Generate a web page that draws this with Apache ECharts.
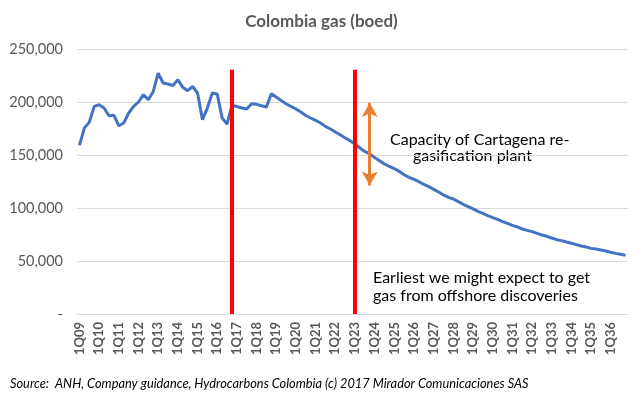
<!DOCTYPE html>
<html>
<head>
<meta charset="utf-8">
<script src="https://cdn.jsdelivr.net/npm/echarts@6/dist/echarts.min.js"></script>
<style>
  html, body { margin: 0; padding: 0; background: #fff; }
  #chart { width: 643px; height: 397px; }
</style>
</head>
<body>
<div id="chart"></div>
<script>
// Quarterly gas production, boed. 1Q09 .. 4Q36.
const years = ["09","10","11","12","13","14","15","16","17","18","19","20","21","22",
  "23","24","25","26","27","28","29","30","31","32","33","34","35","36"];
const quarters = ["1Q", "2Q", "3Q", "4Q"];
const categories = [];
years.forEach(y => quarters.forEach(q => categories.push(q + y)));

const history = [
  159000, 175500, 181000, 195800, 197400, 194300, 187000, 187500,
  177600, 180200, 189600, 195800, 200000, 206900, 202200, 210000,
  227300, 217900, 217000, 215600, 221000, 213800, 210700, 214700,
  208500, 183300, 194300, 208500, 207500, 184900, 179200, 197000,
];
const forecast = [
  195800, 194300, 193400, 198400, 197800, 196500, 195300, 207800,
  204700, 201500, 198400, 195800, 193400, 190600, 187300, 184900,
  182600, 180200, 177000, 174500, 171700, 169100, 166000, 163500,
  160400, 156600, 153400, 150900, 147700, 144600, 141500, 139200,
  137100, 134500, 131400, 128900, 127000, 124800, 122300, 120100,
  117600, 115100, 112300, 110100, 108500, 106000, 103500, 101300,
  99100, 96900, 95000, 92800, 90900, 89300, 87100, 85500,
  83600, 82100, 80200, 78900, 77700, 76100, 74500, 73300,
  71700, 70100, 69200, 67900, 66700, 65400, 64100, 63200,
  61900, 61300, 60400, 59400, 58200, 57200, 56300, 55300,
];
const gas = history.concat(forecast);

// annotation anchors
const redLines = ["4Q16", "1Q23"];
const redTop = 230500;
const capacityArrow = { at: "4Q23", from: 199000, to: 121300 };

const FONT = "Lato, 'Open Sans', sans-serif";
const GREY = "#595959";

const chart = echarts.init(document.getElementById("chart"), null, { renderer: "canvas" });

const markData = redLines.map(c => [
  { coord: [c, redTop], symbol: "none" },
  { coord: [c, 0], symbol: "none", lineStyle: { color: "#FF0000", width: 4, type: "solid" } },
]);
markData.push([
  { coord: [capacityArrow.at, capacityArrow.from], symbol: "arrow", symbolSize: [12, 14] },
  { coord: [capacityArrow.at, capacityArrow.to], symbol: "arrow", symbolSize: [12, 14],
    lineStyle: { color: "#ED7D31", width: 3, type: "solid" } },
]);

chart.setOption({
  animation: false,
  backgroundColor: "#fff",
  textStyle: { fontFamily: FONT },
  title: {
    text: "Colombia gas (boed)",
    left: "center", top: 8,
    textStyle: { color: GREY, fontSize: 17, fontWeight: "bold", fontFamily: FONT },
  },
  grid: { left: 77, right: 15, top: 49, bottom: 83 },
  xAxis: {
    type: "category",
    data: categories,
    boundaryGap: true,
    axisLine: { lineStyle: { color: "#D9D9D9" } },
    axisTick: { show: false },
    axisLabel: {
      interval: 3, rotate: 90, margin: 8,
      color: GREY, fontSize: 13, fontWeight: "bold", fontFamily: FONT,
    },
    splitLine: { show: false },
  },
  yAxis: {
    type: "value",
    min: 0, max: 250000, interval: 50000,
    axisLine: { show: false },
    axisTick: { show: false },
    axisLabel: {
      color: GREY, fontSize: 14.5, margin: 14, fontFamily: FONT,
      formatter: v => v === 0 ? "-" : v.toLocaleString("en-US"),
    },
    splitLine: { lineStyle: { color: "#D9D9D9", width: 1 } },
  },
  series: [{
    type: "line",
    data: gas,
    symbol: "none",
    lineStyle: { color: "#4472C4", width: 3 },
    z: 3,
    markLine: {
      silent: true,
      symbol: "none",
      label: { show: false },
      data: markData,
      z: 4,
    },
  }],
  graphic: [
    { type: "text", left: 390, top: 132,
      style: { text: "Capacity of Cartagena re-", font: "16px " + FONT, fill: "#000" } },
    { type: "text", left: 413, top: 148,
      style: { text: "gasification plant", font: "16px " + FONT, fill: "#000" } },
    { type: "text", left: 373, top: 270,
      style: { text: "Earliest we might expect to get", font: "16px " + FONT, fill: "#000" } },
    { type: "text", left: 373, top: 288,
      style: { text: "gas from offshore discoveries", font: "16px " + FONT, fill: "#000" } },
    { type: "text", left: 10, top: 377,
      style: { text: "Source:  ANH, Company guidance, Hydrocarbons Colombia (c) 2017 Mirador Comunicaciones SAS",
        font: "italic 12.8px " + FONT, fill: "#000" } },
  ],
});
</script>
</body>
</html>
